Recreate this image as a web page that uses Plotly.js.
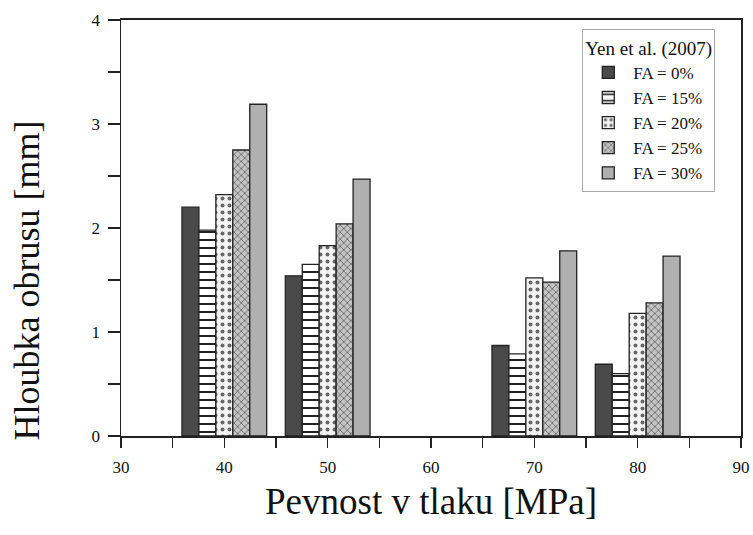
<!DOCTYPE html>
<html>
<head>
<meta charset="utf-8">
<script src="https://cdn.plot.ly/plotly-3.0.1.min.js"></script>
<style>html,body{margin:0;padding:0;background:#fff;}#chart{width:753px;height:535px;}</style>
</head>
<body>
<div id="chart"></div>
<script>
const strengths = [40, 50, 70, 80];
const seriesNames = ["FA = 0%", "FA = 15%", "FA = 20%", "FA = 25%", "FA = 30%"];
const fa0  = [2.20, 1.54, 0.87, 0.69];
const fa15 = [1.98, 1.65, 0.79, 0.60];
const fa20 = [2.32, 1.83, 1.52, 1.18];
const fa25 = [2.75, 2.04, 1.48, 1.28];
const fa30 = [3.19, 2.47, 1.78, 1.73];
const legendTitle = "Yen et al. (2007)";
const xTitle = "Pevnost v tlaku [MPa]";
const yTitle = "Hloubka obrusu [mm]";

const styles = [
  {color: "#4a4a4a", pattern: {shape: ""}},
  {color: "#ffffff", pattern: {shape: "-", fgcolor: "#222", bgcolor: "#fff", size: 8, solidity: 0.25}},
  {color: "#ffffff", pattern: {shape: ".", fgcolor: "#666", bgcolor: "#f4f4f4", size: 7, solidity: 0.25}},
  {color: "#bdbdbd", pattern: {shape: "x", fgcolor: "#666", bgcolor: "#c4c4c4", size: 5, solidity: 0.3}},
  {color: "#b0b0b0", pattern: {shape: ""}}
];
const values = [fa0, fa15, fa20, fa25, fa30];

const data = values.map((v, i) => ({
  type: "bar",
  x: strengths,
  y: v,
  name: seriesNames[i],
  marker: {
    color: styles[i].color,
    pattern: styles[i].pattern,
    line: {color: "#222", width: 1.3}
  }
}));

const serif = "Liberation Serif, serif";
const tickFont = {family: serif, size: 17, color: "#111"};

const layout = {
  width: 753, height: 535,
  margin: {l: 121, r: 12, t: 20, b: 99},
  paper_bgcolor: "#fff", plot_bgcolor: "#fff",
  barmode: "group",
  bargap: 0.18,
  bargroupgap: 0,
  showlegend: true,
  legend: {
    x: 0.744, y: 0.978, xanchor: "left", yanchor: "top",
    bordercolor: "#aaa", borderwidth: 1, bgcolor: "#fff",
    font: {family: serif, size: 17, color: "#111"},
    title: {text: legendTitle, font: {family: serif, size: 19, color: "#111"}},
    tracegroupgap: 0,
    itemwidth: 40
  },
  xaxis: {
    range: [30, 90],
    tickmode: "linear", tick0: 30, dtick: 10,
    ticks: "outside", ticklen: 10, tickwidth: 1.2, tickcolor: "#222",
    ticklabelstandoff: 5,
    minor: {dtick: 5, ticks: "outside", ticklen: 10, tickwidth: 1.2, tickcolor: "#222"},
    showline: true, linecolor: "#222", linewidth: 2, mirror: true,
    showgrid: false, zeroline: false,
    tickfont: tickFont
  },
  yaxis: {
    range: [0, 4],
    tickmode: "linear", tick0: 0, dtick: 1,
    ticks: "outside", ticklen: 12, tickwidth: 1.2, tickcolor: "#222",
    ticklabelstandoff: 4,
    minor: {dtick: 0.5, ticks: "outside", ticklen: 12, tickwidth: 1.2, tickcolor: "#222"},
    showline: true, linecolor: "#222", linewidth: 1.5, mirror: true,
    showgrid: false, zeroline: false,
    tickfont: tickFont
  },
  annotations: [
    {text: xTitle, xref: "paper", yref: "paper", x: 0.5, y: -0.103, xanchor: "center", yanchor: "top",
     showarrow: false, font: {family: serif, size: 37, color: "#111"}},
    {text: yTitle, xref: "paper", yref: "paper", x: -0.187, y: 0.374, xanchor: "left", yanchor: "middle",
     textangle: -90, showarrow: false, font: {family: serif, size: 36, color: "#111"}}
  ]
};

Plotly.newPlot("chart", data, layout, {staticPlot: true, displayModeBar: false});
</script>
</body>
</html>
